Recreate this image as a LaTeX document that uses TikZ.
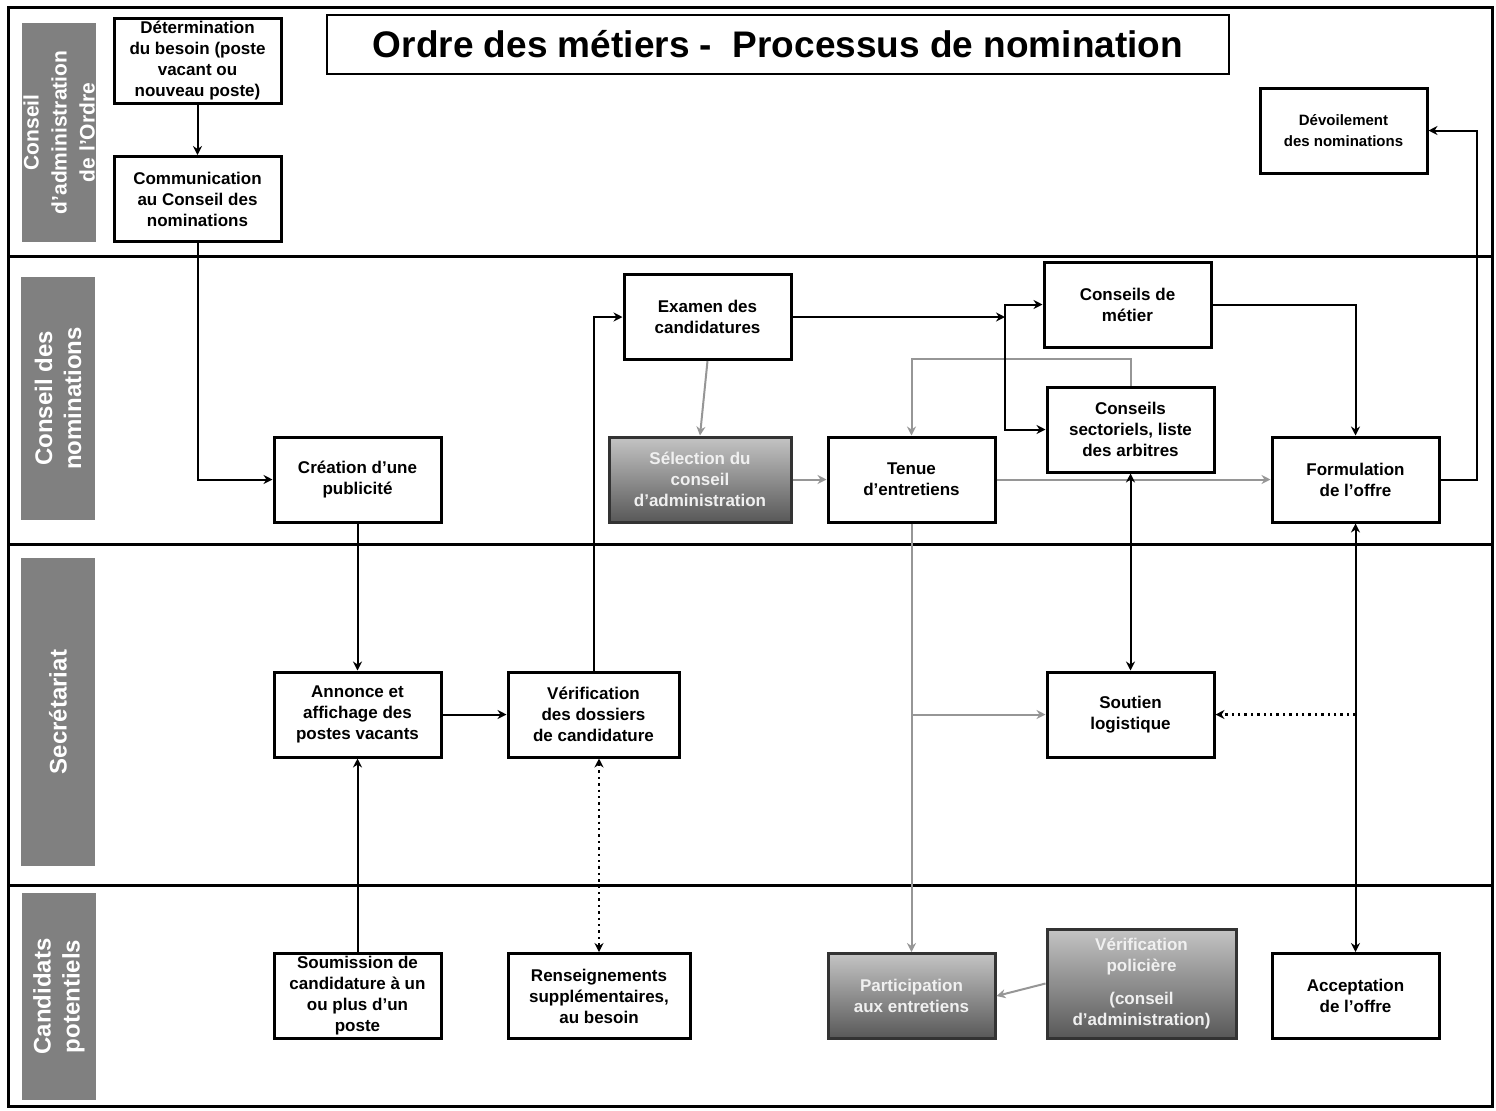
\documentclass[tikz,border=0pt]{standalone}
\usepackage{fontspec}
\setmainfont{Liberation Sans}
\usepackage{tikz}
\usetikzlibrary{arrows.meta,positioning,calc}
\definecolor{lanec}{RGB}{128,128,128}
\definecolor{linkc}{RGB}{150,150,150}
\definecolor{shadetop}{RGB}{196,196,196}
\definecolor{shadebot}{RGB}{88,88,88}

\begin{document}
\begin{tikzpicture}[x=0.5pt, y=-0.5pt, >={Stealth[length=4.5pt,width=4.5pt]},
  box/.style={draw, line width=1.5pt, fill=white, align=center, inner sep=1pt, minimum width=83.5pt, minimum height=42.5pt, font=\bfseries\fontsize{8.5}{10.5}\selectfont},
  shadebox/.style={box, draw=black!80, top color=shadetop, bottom color=shadebot, text=black!6},
  lane/.style={fill=lanec, text=white, rotate=90, align=center, minimum width=#1, minimum height=37pt, inner sep=0pt, font=\bfseries\fontsize{12}{14.5}\selectfont},
  flow/.style={->, line width=1pt},
  soft/.style={->, line width=1pt, linkc},
  dots/.style={line width=1.2pt, dotted}]
  \useasboundingbox (0,0) rectangle (1496,1110);
  % swimlanes
  \draw[line width=1.5pt] (8,7) rectangle (1492,1106);
  \foreach \y in {256,544,885} \draw[line width=1.5pt] (8,\y) -- (1492,\y);
  \node[lane=109.5pt, font=\bfseries\fontsize{10.5}{14}\selectfont] (ca) at (59,132.5) {Conseil\\d'administration\\de l'Ordre};
  \node[lane=121.5pt] (cn) at (58,398.5) {Conseil des\\nominations};
  \node[lane=154pt] (sec) at (58,712) {Secrétariat};
  \node[lane=103.5pt] (cand) at (59,996.5) {Candidats\\potentiels};
  \node[draw, line width=1pt, minimum width=451pt, minimum height=29.5pt, font=\bfseries\fontsize{18.5}{22}\selectfont] (title) at (778,44.5) {Ordre des métiers -\ \ Processus de nomination};

  % steps
  \node[box, inner sep=0pt] (besoin) at (197.5,61) {Détermination\\du besoin (poste\\vacant ou\\nouveau poste)};
  \node[box] (commu) at (197.5,199) {Communication\\au Conseil des\\nominations};
  \node[box, font=\bfseries\fontsize{7.5}{10.5}\selectfont] (devoil) at (1343.5,130.5) {Dévoilement\\des nominations};
  \node[box] (examen) at (707.5,317) {Examen des\\candidatures};
  \node[box] (cmetier) at (1127.5,304.5) {Conseils de\\métier};
  \node[box] (csect) at (1130.5,429.5) {Conseils\\sectoriels, liste\\des arbitres};
  \node[box] (pub) at (357.5,479.5) {Création d'une\\publicité};
  \node[shadebox, minimum width=91pt] (select) at (700,479.5) {Sélection du\\conseil\\d'administration};
  \node[box] (tenue) at (911.5,479.5) {Tenue\\d'entretiens};
  \node[box] (offre) at (1355.5,479.5) {Formulation\\de l'offre};
  \node[box] (annonce) at (357.5,714.5) {Annonce et\\affichage des\\postes vacants};
  \node[box, minimum width=85.5pt] (dossiers) at (593.5,714.5) {Vérification\\des dossiers\\de candidature};
  \node[box] (soutien) at (1130.5,714.5) {Soutien\\logistique};
  \node[box, inner sep=0pt] (soumis) at (357.5,996) {Soumission de\\candidature à un\\ou plus d'un\\poste};
  \node[box, minimum width=91pt] (rens) at (599,996) {Renseignements\\supplémentaires,\\au besoin};
  \node[shadebox] (particip) at (911.5,996) {Participation\\aux entretiens};
  \node[shadebox, minimum width=94.5pt, minimum height=54.5pt] (police) at (1141.5,983.5) {Vérification\\policière\\[6pt](conseil\\d'administration)};
  \node[box] (accept) at (1355.5,996) {Acceptation\\de l'offre};
  \coordinate (tri) at (1005,317);

  % grey links
  \draw[soft] (examen.south) -- (select.north);
  \draw[soft] (select) -- (tenue);
  \draw[soft] (csect.north) -- ++(0,-27) -| (tenue.north);
  \draw[soft] (tenue) -- (offre);
  \draw[soft] (tenue) -- (particip);
  \draw[soft] (tenue.south |- soutien.west) -- (soutien.west);
  \draw[soft] (police.west) -- (particip.east);
  % black links
  \draw[flow] (besoin) -- (commu);
  \draw[flow] (commu.south) |- (pub.west);
  \draw[flow] (pub) -- (annonce);
  \draw[flow] (annonce) -- (dossiers);
  \draw[flow] (soumis) -- (annonce);
  \draw[flow] (dossiers.north) |- (examen.west);
  \draw[flow] (examen.east) -- (tri);
  \draw[flow] (tri) |- (cmetier.west);
  \draw[flow] (tri) |- (csect.west);
  \draw[flow] (cmetier.east) -| (offre.north);
  \draw[flow] (offre.east) -- ++(36,0) |- (devoil.east);
  \draw[flow, <->] (csect) -- (soutien);
  \draw[flow, <->] (offre) -- (accept);
  \draw[dots, <->] (dossiers.south -| rens.north) -- (rens.north);
  \draw[dots, ->] (offre.south |- soutien.east) -- (soutien.east);
\end{tikzpicture}
\end{document}
